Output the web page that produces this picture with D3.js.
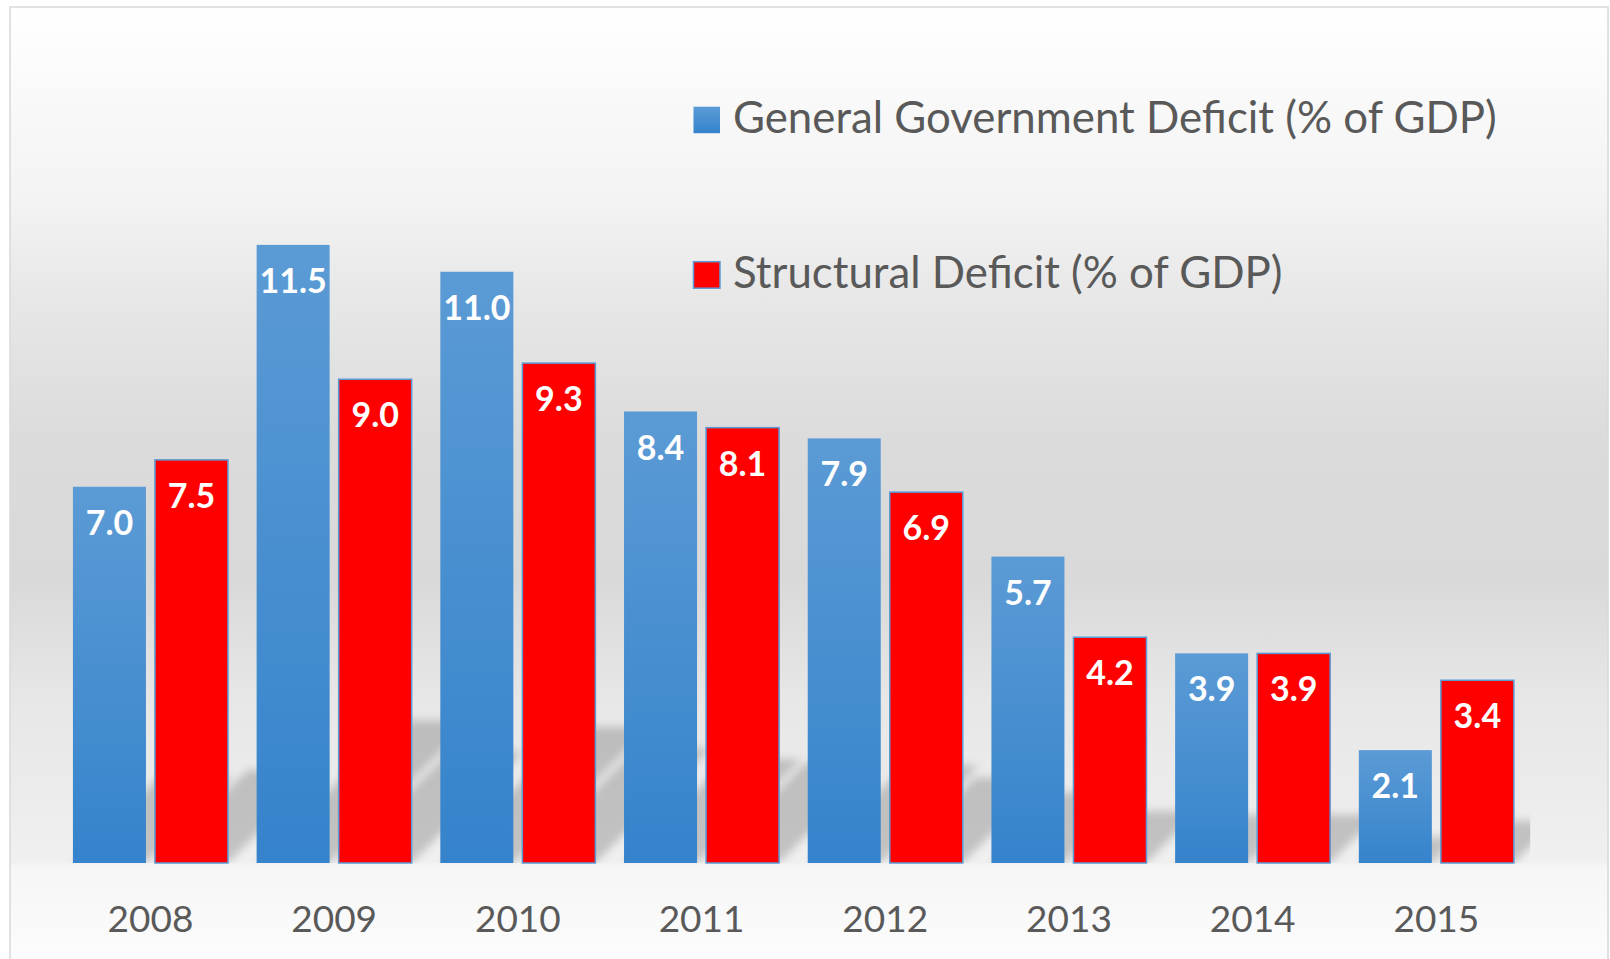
<!DOCTYPE html>
<html>
<head>
<meta charset="utf-8">
<script src="https://cdn.jsdelivr.net/npm/d3@7"></script>
<style>
  html, body { margin: 0; padding: 0; background: #ffffff; overflow: hidden; }
  svg { display: block; }
</style>
</head>
<body>
<svg id="chart" width="1610" height="959"></svg>
<script>
// Deficit figures, % of GDP
const years = ["2008", "2009", "2010", "2011", "2012", "2013", "2014", "2015"];
const generalDeficit = [7.0, 11.5, 11.0, 8.4, 7.9, 5.7, 3.9, 2.1];
const structuralDeficit = [7.5, 9.0, 9.3, 8.1, 6.9, 4.2, 3.9, 3.4];
const seriesNames = ["General Government Deficit (% of GDP)", "Structural Deficit (% of GDP)"];
const seriesKeys = ["general", "structural"];
const yDomain = [0, 14];

const rows = years.map((y, i) => ({ year: y, general: generalDeficit[i], structural: structuralDeficit[i] }));

const W = 1610, H = 959;
const plot = { left: 58.6, right: 1528.2, top: 110.5, bottom: 863 };

const svg = d3.select("#chart");
const defs = svg.append("defs");

// chart-area background: soft grey band through the middle
const bg = defs.append("linearGradient").attr("id", "bgGrad")
  .attr("gradientUnits", "userSpaceOnUse").attr("x1", 0).attr("y1", 7).attr("x2", 0).attr("y2", H);
[[7, 255], [100, 249], [200, 243], [300, 231], [440, 219], [580, 217], [700, 231], [800, 236], [862, 240], [866, 246], [959, 252]]
  .forEach(([y, g]) => bg.append("stop").attr("offset", (y - 7) / (H - 7)).attr("stop-color", d3.rgb(g, g, g)));

// blue bar fill, lighter at the top of each bar
const blue = defs.append("linearGradient").attr("id", "blueGrad")
  .attr("x1", 0).attr("y1", 0).attr("x2", 0).attr("y2", 1);
blue.append("stop").attr("offset", 0).attr("stop-color", "#5b9bd5");
blue.append("stop").attr("offset", 1).attr("stop-color", "#3583cc");

defs.append("filter").attr("id", "shadowBlur").attr("x", "-20%").attr("y", "-20%").attr("width", "140%").attr("height", "140%")
  .append("feGaussianBlur").attr("stdDeviation", 4);

defs.append("clipPath").attr("id", "plotClip").append("rect")
  .attr("x", plot.left).attr("y", 0).attr("width", plot.right - plot.left + 2).attr("height", plot.bottom);

// chart area
svg.append("rect").attr("x", 10).attr("y", 7).attr("width", 1598).attr("height", 980)
  .attr("fill", "url(#bgGrad)").attr("stroke", "#d9d9d9").attr("stroke-width", 1.5);

const x0 = d3.scaleBand().domain(years).range([plot.left, plot.right]).paddingInner(0.156).paddingOuter(0.078);
const x1 = d3.scaleBand().domain(seriesKeys).range([0, x0.bandwidth()]).paddingInner(0.11);
const y = d3.scaleLinear().domain(yDomain).range([plot.bottom, plot.top]);

const bars = rows.flatMap(r => seriesKeys.map(k => ({ year: r.year, key: k, value: r[k] })));

// perspective shadow cast behind the bars
const shadowScale = 0.23, shadowSkew = 1.0;
const shadowG = svg.append("g").attr("clip-path", "url(#plotClip)")
  .append("g").attr("filter", "url(#shadowBlur)");
shadowG.selectAll("path").data(bars).join("path")
  .attr("d", d => {
    const xa = x0(d.year) + x1(d.key), xb = xa + x1.bandwidth();
    const h = (y(0) - y(d.value)) * shadowScale, dx = h * shadowSkew;
    return `M${xa},${y(0)}L${xb},${y(0)}L${xb + dx},${y(0) - h}L${xa + dx},${y(0) - h}Z`;
  })
  .attr("fill", "#000").attr("fill-opacity", 0.19);

// bars
const barG = svg.append("g");
barG.selectAll("rect").data(bars).join("rect")
  .attr("x", d => x0(d.year) + x1(d.key))
  .attr("y", d => y(d.value))
  .attr("width", x1.bandwidth())
  .attr("height", d => y(0) - y(d.value))
  .attr("fill", d => d.key === "general" ? "url(#blueGrad)" : "#ff0000")
  .attr("stroke", d => d.key === "structural" ? "#5b9bd5" : "none")
  .attr("stroke-width", 1.5);

// value labels inside the bar tops
barG.selectAll("text").data(bars).join("text")
  .attr("x", d => x0(d.year) + x1(d.key) + x1.bandwidth() / 2)
  .attr("y", d => y(d.value) + 48)
  .attr("text-anchor", "middle")
  .attr("font-family", "Lato, 'Open Sans', sans-serif")
  .attr("font-weight", 700)
  .attr("font-size", 34)
  .attr("fill", "#ffffff")
  .text(d => d3.format(".1f")(d.value));

// category axis
const xAxis = svg.append("g").attr("transform", `translate(0,${plot.bottom})`)
  .call(d3.axisBottom(x0).tickSize(0).tickPadding(0));
xAxis.select(".domain").remove();
xAxis.selectAll("text")
  .attr("y", 69).attr("dy", 0)
  .attr("font-family", "Lato, 'Open Sans', sans-serif")
  .attr("font-size", 37)
  .attr("fill", "#595959");

// legend
const legend = svg.append("g");
const legendRows = [
  { name: seriesNames[0], key: "general", baseline: 133.3 },
  { name: seriesNames[1], key: "structural", baseline: 288.3 }
];
const lg = legend.selectAll("g").data(legendRows).join("g");
lg.append("rect")
  .attr("x", 693.5).attr("y", d => d.baseline - 26.6)
  .attr("width", 26.5).attr("height", 26.5)
  .attr("fill", d => d.key === "general" ? "url(#blueGrad)" : "#ff0000")
  .attr("stroke", d => d.key === "structural" ? "#5b9bd5" : "none")
  .attr("stroke-width", 1.5);
lg.append("text")
  .attr("x", 733).attr("y", d => d.baseline)
  .attr("font-family", "Lato, 'Open Sans', sans-serif")
  .attr("font-size", 43.8)
  .attr("fill", "#595959")
  .text(d => d.name);
</script>
</body>
</html>
